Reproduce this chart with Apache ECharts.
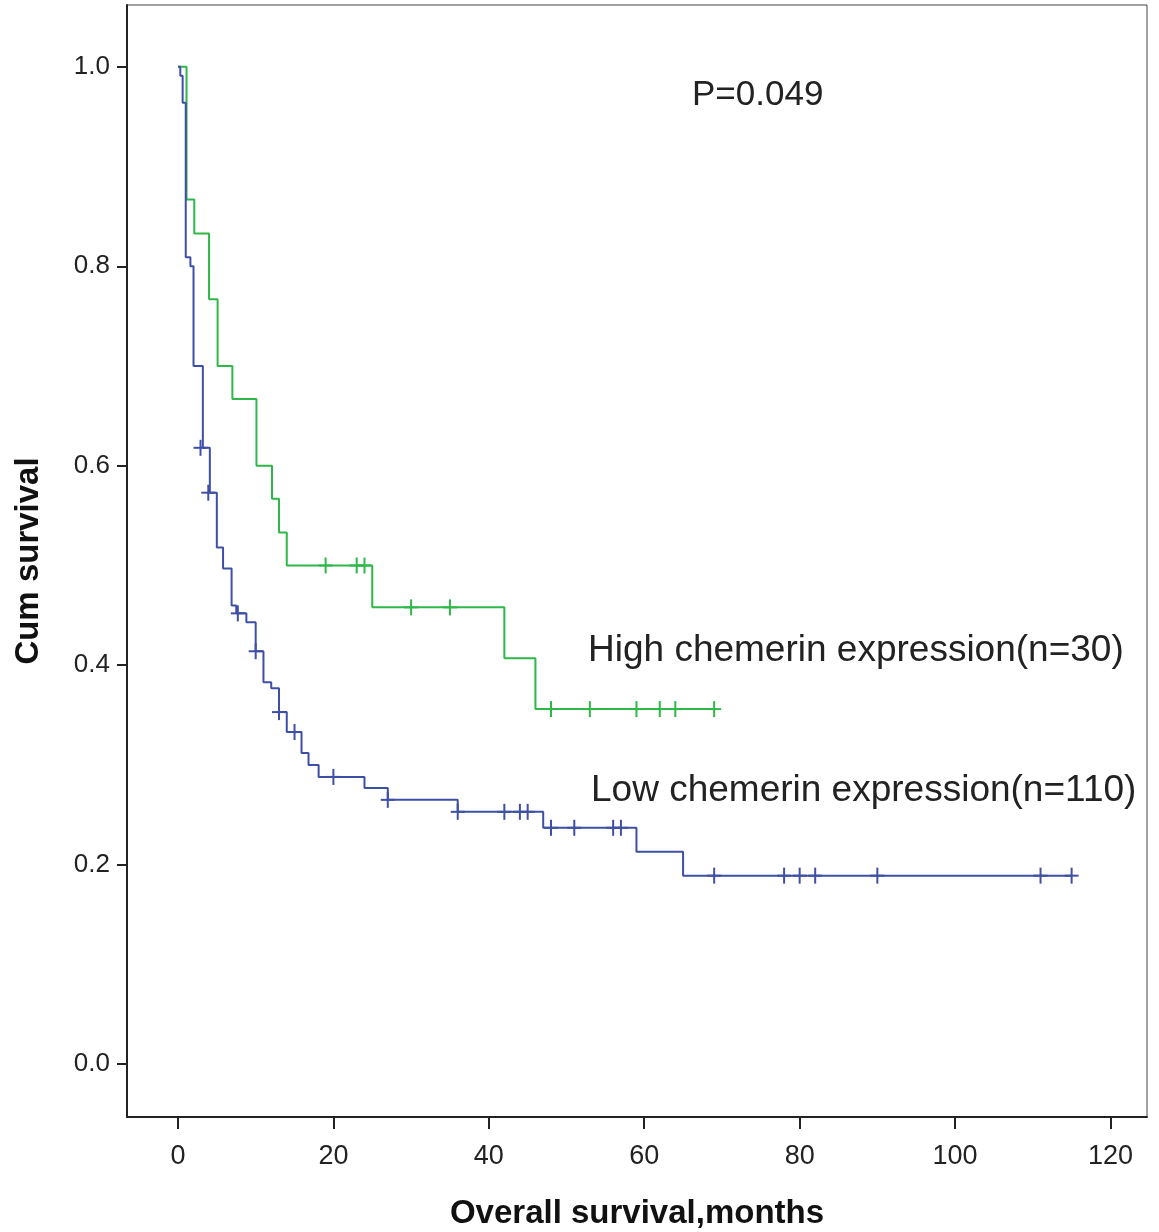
<!DOCTYPE html>
<html>
<head>
<meta charset="utf-8">
<script src="https://cdn.jsdelivr.net/npm/echarts@6/dist/echarts.min.js"></script>
<style>
html,body{margin:0;padding:0;background:#fff;}
#chart{width:1159px;height:1232px;}
</style>
</head>
<body>
<div id="chart"></div>
<script>
// ---- Data ----
// Low chemerin expression (n=110): step times (months) and survival after each step
const lowTimes = [0, 0.3, 0.6, 1.0, 1.6, 2.0, 3.2, 4.1, 5.0, 5.8, 6.9, 7.5, 8.8, 10.0, 11.0, 12.0, 13.0, 14.0, 15.9, 16.8, 18.1, 24.0, 27.0, 36.0, 47.0, 59.0, 65.0, 115.0];
const lowSurv  = [1.0, 0.991, 0.964, 0.809, 0.800, 0.700, 0.618, 0.573, 0.518, 0.497, 0.460, 0.452, 0.443, 0.414, 0.383, 0.377, 0.353, 0.333, 0.312, 0.300, 0.288, 0.277, 0.265, 0.253, 0.237, 0.213, 0.189, 0.189];
const lowCensorTimes = [2.9, 3.9, 7.7, 10.0, 13.0, 15.0, 20.0, 27.0, 36.0, 42.0, 44.0, 45.0, 48.0, 51.0, 56.0, 57.0, 69.0, 78.0, 80.0, 82.0, 90.0, 111.0, 115.0];
const lowCensorSurv  = [0.618, 0.573, 0.452, 0.414, 0.353, 0.333, 0.288, 0.265, 0.253, 0.253, 0.253, 0.253, 0.237, 0.237, 0.237, 0.237, 0.189, 0.189, 0.189, 0.189, 0.189, 0.189, 0.189];

// High chemerin expression (n=30)
const highTimes = [0, 1.1, 2.1, 4.0, 5.1, 7.0, 10.1, 12.1, 13.0, 14.0, 25.0, 42.0, 46.0, 69.0];
const highSurv  = [1.0, 0.867, 0.833, 0.767, 0.700, 0.667, 0.600, 0.567, 0.533, 0.500, 0.458, 0.407, 0.356, 0.356];
const highCensorTimes = [19, 23, 24, 30, 35, 48, 53, 59, 62, 64, 69];
const highCensorSurv  = [0.500, 0.500, 0.500, 0.458, 0.458, 0.356, 0.356, 0.356, 0.356, 0.356, 0.356];

const xTicks = [0, 20, 40, 60, 80, 100, 120];
const yTicks = [0, 0.2, 0.4, 0.6, 0.8, 1.0];

const labelText = ['High chemerin expression(n=30)', 'Low chemerin expression(n=110)'];
const pText = 'P=0.049';

// ---- Chart ----
const BLUE = '#3E4FA6';
const GREEN = '#2EB848';
const zip = (a, b) => a.map((v, i) => [v, b[i]]);

function crossRenderer(color) {
  return function (params, api) {
    const p = api.coord([api.value(0), api.value(1)]);
    return {
      type: 'group',
      children: [
        { type: 'line', shape: { x1: p[0] - 7, y1: p[1], x2: p[0] + 7, y2: p[1] }, style: { stroke: color, lineWidth: 2 } },
        { type: 'line', shape: { x1: p[0], y1: p[1] - 8, x2: p[0], y2: p[1] + 8 }, style: { stroke: color, lineWidth: 2 } }
      ]
    };
  };
}

const narrow = "'Liberation Sans Narrow', 'Liberation Sans', Arial, sans-serif";
const regular = "'Liberation Sans', Arial, sans-serif";

const chart = echarts.init(document.getElementById('chart'), null, { renderer: 'canvas' });
chart.setOption({
  backgroundColor: '#ffffff',
  animation: false,
  grid: { left: 127, right: 12, top: 5, bottom: 115, containLabel: false, outerBoundsMode: 'none', show: true, borderColor: '#444', borderWidth: 1, backgroundColor: 'transparent' },
  xAxis: {
    type: 'value', min: -6.56, max: 124.7,
    name: 'Overall survival,months', nameLocation: 'middle', nameGap: 80,
    nameTextStyle: { fontFamily: narrow, fontWeight: 'bold', fontSize: 33, color: '#111' },
    axisLine: { onZero: false, lineStyle: { color: '#222', width: 2 } },
    axisTick: { show: true, length: 12, customValues: xTicks, lineStyle: { color: '#222', width: 2 } },
    axisLabel: { customValues: xTicks, margin: 26, fontFamily: narrow, fontSize: 27, color: '#222' },
    splitLine: { show: false }
  },
  yAxis: {
    type: 'value', min: -0.053, max: 1.062,
    name: 'Cum survival', nameLocation: 'middle', nameGap: 82, nameRotate: 90,
    nameTextStyle: { fontFamily: narrow, fontWeight: 'bold', fontSize: 33, color: '#111' },
    axisLine: { onZero: false, lineStyle: { color: '#222', width: 2 } },
    axisTick: { show: true, length: 10, customValues: yTicks, lineStyle: { color: '#222', width: 2 } },
    axisLabel: { customValues: yTicks, margin: 17, fontFamily: regular, fontSize: 26, color: '#222', formatter: v => v.toFixed(1) },
    splitLine: { show: false }
  },
  series: [
    { type: 'line', name: 'Low', data: zip(lowTimes, lowSurv), step: 'end', showSymbol: false, lineStyle: { color: BLUE, width: 2 }, z: 3 },
    { type: 'line', name: 'High', data: zip(highTimes, highSurv), step: 'end', showSymbol: false, lineStyle: { color: GREEN, width: 2 }, z: 2 },
    { type: 'custom', coordinateSystem: 'cartesian2d', data: zip(lowCensorTimes, lowCensorSurv), encode: { x: 0, y: 1 }, renderItem: crossRenderer(BLUE), z: 4 },
    { type: 'custom', coordinateSystem: 'cartesian2d', data: zip(highCensorTimes, highCensorSurv), encode: { x: 0, y: 1 }, renderItem: crossRenderer(GREEN), z: 4 }
  ],
  graphic: [
    { type: 'text', left: 692, top: 78, style: { text: pText, fontFamily: regular, fontSize: 35, fill: '#222' } },
    { type: 'text', left: 588, top: 632, style: { text: labelText[0], fontFamily: regular, fontSize: 37, fill: '#222' } },
    { type: 'text', left: 591, top: 772, style: { text: labelText[1], fontFamily: regular, fontSize: 37, fill: '#222' } }
  ]
});
</script>
</body>
</html>
